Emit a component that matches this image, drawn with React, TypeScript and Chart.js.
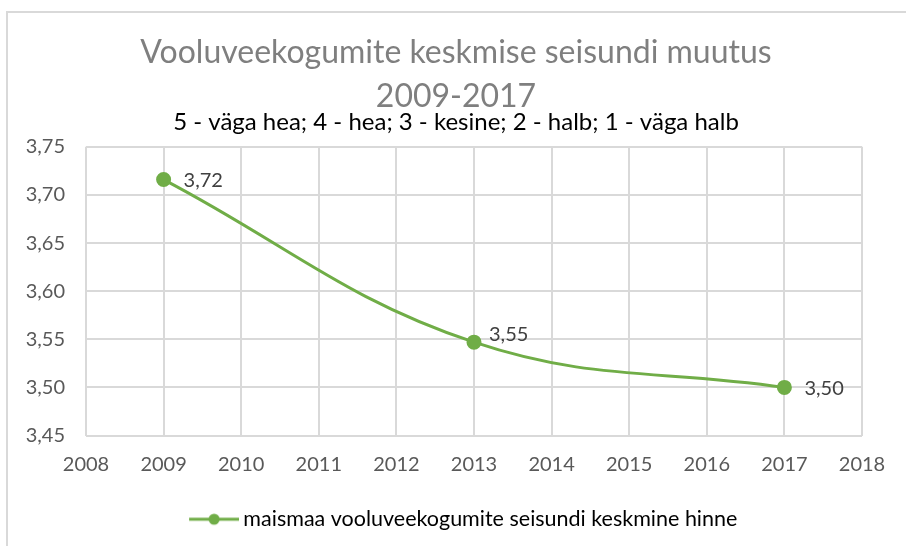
import React, { useEffect, useRef } from "react";
import { Chart, registerables } from "chart.js";

Chart.register(...registerables);

const years = [2009, 2013, 2017];
const values = [3.716, 3.547, 3.5];
const valueLabels = ["3,72", "3,55", "3,50"];
const xTicks = { min: 2008, max: 2018, step: 1 };
const yTicks = { min: 3.45, max: 3.75, step: 0.05 };
const titleLines = ["Vooluveekogumite keskmise seisundi muutus", "2009-2017"];
const subtitleText = "5 - väga hea; 4 - hea; 3 - kesine; 2 - halb; 1 - väga halb";
const seriesName = "maismaa vooluveekogumite seisundi keskmine hinne";

const GREEN = "#70AD47";
const FONT = "Lato, 'Open Sans', sans-serif";

function makeLegendIcon(): HTMLCanvasElement {
  const c = document.createElement("canvas");
  c.width = 71;
  c.height = 14;
  const ctx = c.getContext("2d")!;
  ctx.strokeStyle = GREEN;
  ctx.lineWidth = 3;
  ctx.beginPath();
  ctx.moveTo(21, 7);
  ctx.lineTo(71, 7);
  ctx.stroke();
  ctx.fillStyle = GREEN;
  ctx.beginPath();
  ctx.arc(46, 7, 5.5, 0, Math.PI * 2);
  ctx.fill();
  return c;
}

const dataLabelPlugin = {
  id: "dataLabelsRight",
  afterDatasetsDraw(chart: any) {
    const meta = chart.getDatasetMeta(0);
    const ctx = chart.ctx;
    ctx.save();
    ctx.font = `20px ${FONT}`;
    ctx.fillStyle = "#404040";
    ctx.textAlign = "left";
    ctx.textBaseline = "middle";
    meta.data.forEach((pt: any, i: number) => {
      const dy = i === 1 ? -8 : 1;
      const dx = i === 1 ? 15 : 20;
      ctx.fillText(valueLabels[i], pt.x + dx, pt.y + dy);
    });
    ctx.restore();
  },
};

export default function App() {
  const ref = useRef<HTMLCanvasElement | null>(null);

  useEffect(() => {
    if (!ref.current) return;
    const icon = makeLegendIcon();
    const chart = new Chart(ref.current, {
      type: "line",
      data: {
        datasets: [
          {
            label: seriesName,
            data: years.map((x, i) => ({ x, y: values[i] })),
            borderColor: GREEN,
            backgroundColor: GREEN,
            borderWidth: 3,
            pointRadius: 6,
            pointHoverRadius: 6,
            pointBackgroundColor: GREEN,
            pointBorderColor: GREEN,
            tension: 0.4,
            fill: false,
          },
        ],
      },
      options: {
        responsive: false,
        animation: false,
        layout: { padding: { left: 6, right: 0, top: 0, bottom: 6 } },
        scales: {
          x: {
            type: "linear",
            min: xTicks.min,
            max: xTicks.max,
            afterFit: (s: any) => {
              s.height = 63;
            },
            ticks: {
              stepSize: xTicks.step,
              color: "#595959",
              font: { family: FONT, size: 20 },
              padding: 17,
              callback: (v: any) => String(v),
            },
            grid: { color: "#d9d9d9", lineWidth: 2, drawTicks: false },
            border: { display: false },
          },
          y: {
            min: yTicks.min,
            max: yTicks.max,
            afterFit: (s: any) => {
              s.width = 80;
            },
            ticks: {
              stepSize: yTicks.step,
              color: "#595959",
              font: { family: FONT, size: 20 },
              padding: 21,
              callback: (v: any) => Number(v).toFixed(2).replace(".", ","),
            },
            grid: { color: "#d9d9d9", lineWidth: 2, drawTicks: false },
            border: { display: false },
          },
          yRight: {
            type: "linear",
            position: "right",
            min: yTicks.min,
            max: yTicks.max,
            ticks: { display: false },
            grid: { display: false, drawTicks: false },
            border: { display: false },
            afterFit: (s: any) => {
              s.width = 44;
            },
          },
        } as any,
        plugins: {
          title: {
            display: true,
            text: titleLines,
            color: "#7f7f7f",
            font: { family: FONT, size: 32, weight: "normal", lineHeight: 1.36 },
            padding: { top: 31, bottom: -10 },
          },
          subtitle: {
            display: true,
            text: subtitleText,
            color: "#000000",
            font: { family: FONT, size: 24, weight: "normal", lineHeight: 1.2 },
            padding: { top: 0, bottom: 10 },
          },
          legend: {
            display: true,
            position: "bottom",
            labels: {
              usePointStyle: true,
              pointStyleWidth: 58,
              color: "#595959",
              font: { family: FONT, size: 21.5 },
              padding: 10,
              generateLabels: () => [
                {
                  text: seriesName,
                  pointStyle: icon,
                  fillStyle: GREEN,
                  strokeStyle: GREEN,
                  lineWidth: 0,
                  datasetIndex: 0,
                  hidden: false,
                } as any,
              ],
            },
          },
          tooltip: { enabled: false },
        },
      },
      plugins: [dataLabelPlugin],
    });
    return () => chart.destroy();
  }, []);

  return (
    <div
      style={{
        position: "fixed",
        left: 0,
        top: 0,
        width: 906,
        height: 546,
        overflow: "hidden",
        background: "#fff",
      }}
    >
      <div
        style={{
          position: "absolute",
          left: 6,
          top: 11,
          width: 920,
          height: 560,
          border: "2px solid #d9d9d9",
          boxSizing: "border-box",
        }}
      />
      <canvas
        ref={ref}
        width={906}
        height={546}
        style={{ position: "absolute", left: 0, top: 0 }}
      />
    </div>
  );
}
